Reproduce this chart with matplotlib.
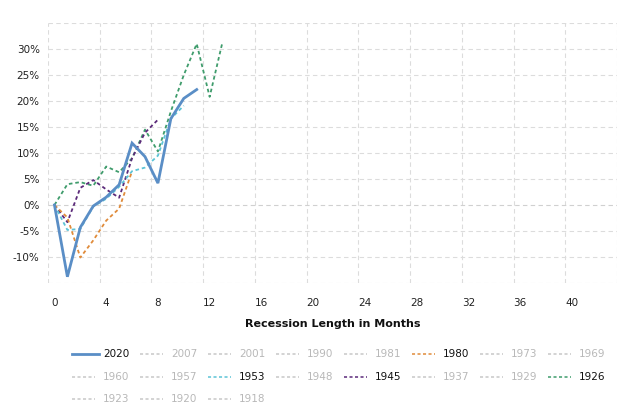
import matplotlib.pyplot as plt
from matplotlib.lines import Line2D

# Cumulative change (%) by month since recession start
s2020 = [0, -13.8, -4.3, -0.2, 1.5, 3.9, 11.9, 9.3, 4.2, 16.6, 20.5, 22.2]
s1980 = [0, -2.4, -10.1, -6.8, -3.0, -0.7, 6.5]
s1953 = [0, -4.8, -4.6, -0.3, 1.2, 3.5, 6.5, 7.2, 9.5, 16.6, 19.1]
s1945 = [0, -3.3, 3.3, 4.8, 3.0, 1.4, 9.0, 13.9, 16.4]
s1926 = [0, 4.0, 4.4, 3.7, 7.4, 6.3, 9.0, 14.5, 10.3, 18.0, 25.0, 31.0, 20.8, 31.4]

legend_years = ['2020', '2007', '2001', '1990', '1981', '1980', '1973', '1969',
                '1960', '1957', '1953', '1948', '1945', '1937', '1929', '1926',
                '1923', '1920', '1918']

x_ticks = list(range(0, 44, 4))
y_ticks = [-10, -5, 0, 5, 10, 15, 20, 25, 30]

colors = {'2020': '#5a8ec6', '1980': '#e08b3a', '1953': '#5cc3d6',
          '1945': '#5b2a7a', '1926': '#3f9c6c'}
series = {'2020': s2020, '1980': s1980, '1953': s1953, '1945': s1945, '1926': s1926}

fig = plt.figure(figsize=(6.34, 4.07), dpi=100)
ax = fig.add_axes([48/634, 1-283/407, (617-48)/634, (283-23)/407])

for yr in ['1926', '1945', '1953', '1980']:
    vals = series[yr]
    ax.plot(range(len(vals)), vals, color=colors[yr], lw=1.3, ls=(0, (2, 1.6)))
ax.plot(range(len(s2020)), s2020, color=colors['2020'], lw=2.0, solid_joinstyle='miter')

ax.set_xlim(-0.5, 43.5)
ax.set_ylim(-15, 35)
ax.set_xticks(x_ticks)
ax.set_yticks(y_ticks)
ax.set_yticklabels([f'{v}%' for v in y_ticks])
ax.tick_params(length=0, labelsize=7.5, colors='#222')
ax.tick_params(axis='y', pad=6)
ax.tick_params(axis='x', pad=11)

# grid: vertical lines between categories
for gx in [x - 0.5 for x in range(0, 48, 4)]:
    ax.axvline(gx, color='#dcdcdc', lw=0.8, ls=(0, (4, 3)), zorder=0)
for gy in range(-15, 40, 5):
    ax.axhline(gy, color='#d0d0d0' if gy == 0 else '#dcdcdc', lw=0.8, ls=(0, (4, 3)), zorder=0)
for s in ax.spines.values():
    s.set_visible(False)

fig.text(332.5/634, 1-324/407, 'Recession Length in Months', ha='center', va='center',
         fontsize=8, fontweight='bold', color='#111')

# legend laid out row by row
for i, yr in enumerate(legend_years):
    row, col = divmod(i, 8)
    x0 = 72 + 68 * col
    y0 = 354 + 22.5 * row
    active = yr in series
    if yr == '2020':
        ln = Line2D([x0/634, (x0+27)/634], [1-y0/407]*2, color=colors[yr], lw=2.0)
    else:
        ln = Line2D([x0/634, (x0+23)/634], [1-y0/407]*2,
                    color=colors[yr] if active else '#c8c8c8', lw=1.1, ls=(0, (2, 1.6)))
    fig.add_artist(ln)
    fig.text((x0+31)/634, 1-y0/407, yr, ha='left', va='center', fontsize=7.5,
             color='#111' if active else '#b8b8b8')

fig.savefig('out.png', dpi=100)
